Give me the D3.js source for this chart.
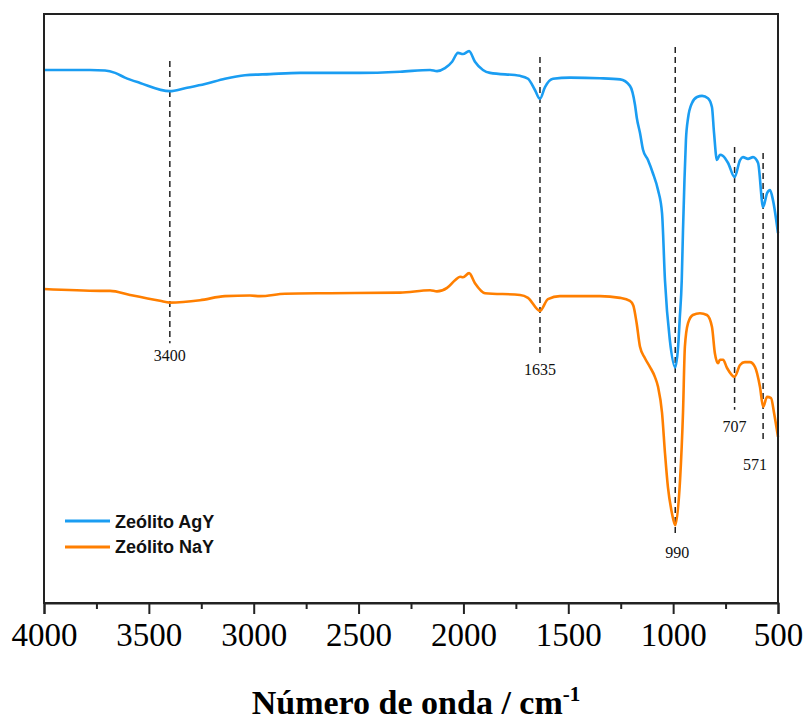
<!DOCTYPE html>
<html>
<head>
<meta charset="utf-8">
<script src="https://cdn.jsdelivr.net/npm/d3@7"></script>
<style>
  html, body { margin: 0; padding: 0; background: #fff; }
  svg { display: block; }
</style>
</head>
<body>
<svg id="chart" width="807" height="726"></svg>
<script>
// FTIR spectra: wavenumber (cm-1) and transmittance (a.u.)
const agyWave = [4000,3781,3709,3661,3614,3542,3400,3328,3232,3137,3042,2922,2779,2493,2302,2159,2126,2088,2054,2026,2002,1973,1945,1907,1873,1730,1692,1659,1635,1611,1573,1492,1349,1253,1206,1182,1173,1158,1144,1120,1097,1072,1053,1039,1016,990,974,969,959,953,946,939,929,910,886,862,834,815,805,791,777,762,738,707,681,667,643,619,595,571,552,538,524,500];
const agyT    = [90.5,90.5,90.4,90.0,89.2,88.3,86.9,87.4,88.1,89.0,89.6,89.8,90.0,90.0,90.2,90.5,90.3,90.8,91.9,93.4,93.2,93.7,91.9,90.5,90.0,89.5,89.0,87.1,85.6,87.6,89.0,89.2,89.1,88.9,87.8,84.6,82.3,79.8,77.0,75.2,73.0,70.1,66.2,54.8,44.7,40.0,44.7,48.0,54.8,63.3,71.8,78.6,82.3,84.9,85.9,86.1,85.7,84.2,79.8,75.2,76.1,75.9,74.7,72.3,75.2,75.7,75.4,75.7,74.7,67.2,69.6,70.1,68.4,62.8];

const nayWave = [4000,3733,3685,3590,3447,3400,3256,3137,3018,2970,2851,2636,2302,2159,2126,2078,2040,2016,2002,1973,1945,1897,1730,1692,1635,1597,1540,1349,1253,1206,1190,1174,1158,1135,1111,1087,1072,1053,1039,1025,1006,990,967,953,944,929,906,872,839,815,801,786,777,762,743,707,681,658,634,610,586,571,552,533,519,500];
const nayT    = [53.3,53.0,53.0,52.3,51.3,51.0,51.4,52.1,52.2,52.1,52.5,52.6,52.7,53.1,52.9,53.5,54.8,55.4,55.3,56.0,54.3,52.6,52.3,51.8,49.6,51.6,52.1,52.1,51.8,51.3,50.5,47.5,43.5,41.6,40.1,38.4,36.7,32.3,25.5,19.7,15.3,13.2,20.9,32.3,43.5,47.5,48.9,49.2,48.9,46.9,42.4,40.7,41.3,41.3,39.9,38.4,40.4,40.9,40.9,40.1,36.7,33.3,35.0,34.8,32.3,28.2];

const seriesNames = ["Zeólito AgY", "Zeólito NaY"];

// Band markers: wavenumber, dashed span (transmittance units) and label level
const bandWave  = [3400, 1635, 990, 707, 571];
const bandTop   = [92.0, 92.7, 94.4, 77.4, 76.4];
const bandBot   = [44.1, 41.8, 11.2, 32.8, 27.2];
const bandLabel = [41.1, 38.7, 7.6, 29.0, 22.6];

const majorTicks = [4000, 3500, 3000, 2500, 2000, 1500, 1000, 500];
const minorTicks = [3750, 3250, 2750, 2250, 1750, 1250, 750];

const margin = { left: 44, right: 29, top: 14, bottom: 123 };
const W = 807, H = 726;
const plotW = W - margin.left - margin.right;
const plotH = H - margin.top - margin.bottom;

const svg = d3.select("#chart");
const g = svg.append("g").attr("transform", `translate(${margin.left},${margin.top})`);

const x = d3.scaleLinear().domain([4000, 500]).range([0, plotW]);
const y = d3.scaleLinear().domain([0, 100]).range([plotH, 0]);

const colors = ["#1A9DF2", "#FF7F00"];
const serif = "'Liberation Serif', 'Times New Roman', serif";
const sans = "'Liberation Sans', Arial, sans-serif";

// band markers
const bands = bandWave.map((w, i) => ({ w, top: bandTop[i], bot: bandBot[i], lab: bandLabel[i] }));
g.append("g").selectAll("line").data(bands).join("line")
  .attr("x1", d => x(d.w)).attr("x2", d => x(d.w))
  .attr("y1", d => y(d.top)).attr("y2", d => y(d.bot))
  .attr("stroke", "#222").attr("stroke-width", 1.5)
  .attr("stroke-dasharray", "6,4");

// spectra
const line = d3.line().x(d => x(d[0])).y(d => y(d[1])).curve(d3.curveMonotoneX);
const spectra = [d3.zip(agyWave, agyT), d3.zip(nayWave, nayT)];
g.append("g").selectAll("path").data(spectra).join("path")
  .attr("d", line)
  .attr("fill", "none")
  .attr("stroke", (d, i) => colors[i])
  .attr("stroke-width", 2.6)
  .attr("stroke-linejoin", "round");

// band labels
g.append("g").selectAll("text").data(bands).join("text")
  .attr("x", d => x(d.w) + (d.w === 571 ? -8 : (d.w === 990 ? 2 : 0)))
  .attr("y", d => y(d.lab))
  .attr("text-anchor", "middle")
  .attr("font-family", serif)
  .attr("font-size", 16)
  .attr("fill", "#111")
  .text(d => d.w);

// frame
g.append("rect")
  .attr("x", 0).attr("y", 0).attr("width", plotW).attr("height", plotH)
  .attr("fill", "none").attr("stroke", "#222").attr("stroke-width", 2);

// x axis: major ticks with labels, minor ticks between
const axMajor = g.append("g").attr("transform", `translate(0,${plotH})`)
  .call(d3.axisBottom(x).tickValues(majorTicks).tickSize(11).tickFormat(d3.format("d")));
axMajor.select(".domain").attr("stroke", "#222").attr("stroke-width", 2);
axMajor.selectAll(".tick line").attr("stroke", "#222").attr("stroke-width", 2);
axMajor.selectAll(".tick text")
  .attr("y", 43).attr("dy", null)
  .attr("font-family", serif).attr("font-size", 33).attr("fill", "#000");

const axMinor = g.append("g").attr("transform", `translate(0,${plotH})`)
  .call(d3.axisBottom(x).tickValues(minorTicks).tickSize(6).tickFormat(""));
axMinor.select(".domain").remove();
axMinor.selectAll(".tick line").attr("stroke", "#222").attr("stroke-width", 2);

// axis title
const title = svg.append("text")
  .attr("x", 416).attr("y", 714)
  .attr("text-anchor", "middle")
  .attr("font-family", serif).attr("font-weight", "bold").attr("font-size", 34)
  .attr("fill", "#000");
title.append("tspan").text("Número de onda / cm");
title.append("tspan").attr("dy", -13).attr("font-size", 21).text("-1");

// legend
const legend = svg.append("g");
const legendRows = seriesNames.map((n, i) => ({ n, i }));
legend.selectAll("line").data(legendRows).join("line")
  .attr("x1", 65).attr("x2", 110)
  .attr("y1", d => 521 + d.i * 26).attr("y2", d => 521 + d.i * 26)
  .attr("stroke", d => colors[d.i]).attr("stroke-width", 3);
legend.selectAll("text").data(legendRows).join("text")
  .attr("x", 115).attr("y", d => 527.5 + d.i * 25.5)
  .attr("font-family", sans).attr("font-weight", "bold").attr("font-size", 18)
  .attr("fill", "#111")
  .text(d => d.n);
</script>
</body>
</html>
